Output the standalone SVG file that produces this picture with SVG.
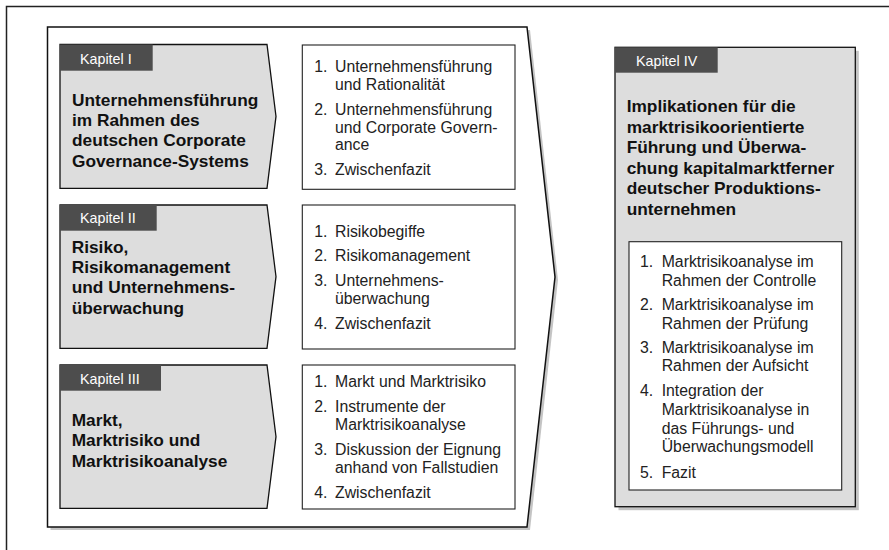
<svg xmlns="http://www.w3.org/2000/svg" width="889" height="550" viewBox="0 0 889 550">
  <defs>
    <style>
      .frame { fill: none; stroke: #222; stroke-width: 1.5; }
      .shadow { fill: #c4c4c4; stroke: none; }
      .chevron { fill: #ffffff; stroke: #111; stroke-width: 1.5; }
      .chapter { fill: #dddddd; stroke: #111; stroke-width: 1.3; }
      .tag { fill: #4d4d4d; stroke: none; }
      .list { fill: #ffffff; stroke: #222; stroke-width: 1.1; }
      .tagtext { font-family: "Liberation Sans", Arial, sans-serif; font-size: 14.3px; fill: #ffffff; }
      .title { font-family: "Liberation Sans", Arial, sans-serif; font-size: 17.3px; font-weight: bold; fill: #111; }
      .item { font-family: "Liberation Sans", Arial, sans-serif; font-size: 15.8px; fill: #222; }
    </style>
  </defs>

  <rect width="889" height="550" fill="#ffffff"/>

  <!-- page frame, running off the right and bottom edges -->
  <path class="frame" d="M6.5,550 V6.5 H889"/>

  <!-- big chevron holding chapters I-III -->
  <g id="container">
    <path class="shadow" d="M50.5,30 L530,30 L558,280 L530,530 L50.5,530 Z"/>
    <path class="chevron" d="M47.5,27 L527,27 L555,277 L527,527 L47.5,527 Z"/>
  </g>

  <!-- Kapitel I -->
  <g id="kapitel-1">
    <path class="chapter" d="M60,44.5 H267 L276,116.4 L267,188.3 H60 Z"/>
    <rect class="tag" x="60" y="44.5" width="92.7" height="26.2"/>
    <text class="tagtext" x="80" y="64">Kapitel I</text>
    <text class="title" x="72">
      <tspan x="72" y="105.7">Unternehmensführung</tspan>
      <tspan x="72" y="126">im Rahmen des</tspan>
      <tspan x="72" y="146.3">deutschen Corporate</tspan>
      <tspan x="72" y="166.6">Governance-Systems</tspan>
    </text>
  </g>
  <g id="inhalt-1">
    <rect class="list" x="302.3" y="45" width="212.7" height="144.3"/>
    <text class="item">
      <tspan x="314.3" y="72.3">1.</tspan><tspan x="335" y="72.3">Unternehmensführung</tspan>
      <tspan x="335" y="90">und Rationalität</tspan>
      <tspan x="314.3" y="115">2.</tspan><tspan x="335" y="115">Unternehmensführung</tspan>
      <tspan x="335" y="132.5">und Corporate Govern-</tspan>
      <tspan x="335" y="150">ance</tspan>
      <tspan x="314.3" y="175">3.</tspan><tspan x="335" y="175">Zwischenfazit</tspan>
    </text>
  </g>

  <!-- Kapitel II -->
  <g id="kapitel-2">
    <path class="chapter" d="M60,205 H267 L276,276.7 L267,348.3 H60 Z"/>
    <rect class="tag" x="60" y="205" width="96.7" height="25.7"/>
    <text class="tagtext" x="80" y="223">Kapitel II</text>
    <text class="title">
      <tspan x="71.7" y="252.7">Risiko,</tspan>
      <tspan x="71.7" y="273">Risikomanagement</tspan>
      <tspan x="71.7" y="293.3">und Unternehmens-</tspan>
      <tspan x="71.7" y="313.6">überwachung</tspan>
    </text>
  </g>
  <g id="inhalt-2">
    <rect class="list" x="302.3" y="205" width="212.7" height="144"/>
    <text class="item">
      <tspan x="314.3" y="236.7">1.</tspan><tspan x="335" y="236.7">Risikobegiffe</tspan>
      <tspan x="314.3" y="261.2">2.</tspan><tspan x="335" y="261.2">Risikomanagement</tspan>
      <tspan x="314.3" y="285.7">3.</tspan><tspan x="335" y="285.7">Unternehmens-</tspan>
      <tspan x="335" y="303.7">überwachung</tspan>
      <tspan x="314.3" y="328.5">4.</tspan><tspan x="335" y="328.5">Zwischenfazit</tspan>
    </text>
  </g>

  <!-- Kapitel III -->
  <g id="kapitel-3">
    <path class="chapter" d="M60,365 H267 L276,436.7 L267,508.3 H60 Z"/>
    <rect class="tag" x="60" y="365" width="101" height="25.7"/>
    <text class="tagtext" x="80" y="383.5">Kapitel III</text>
    <text class="title">
      <tspan x="71.7" y="426">Markt,</tspan>
      <tspan x="71.7" y="446.4">Marktrisiko und</tspan>
      <tspan x="71.7" y="466.8">Marktrisikoanalyse</tspan>
    </text>
  </g>
  <g id="inhalt-3">
    <rect class="list" x="302.3" y="365" width="212.7" height="144"/>
    <text class="item">
      <tspan x="314.3" y="387.3">1.</tspan><tspan x="335" y="387.3">Markt und Marktrisiko</tspan>
      <tspan x="314.3" y="412.3">2.</tspan><tspan x="335" y="412.3">Instrumente der</tspan>
      <tspan x="335" y="430">Marktrisikoanalyse</tspan>
      <tspan x="314.3" y="455">3.</tspan><tspan x="335" y="455">Diskussion der Eignung</tspan>
      <tspan x="335" y="472.5">anhand von Fallstudien</tspan>
      <tspan x="314.3" y="497.5">4.</tspan><tspan x="335" y="497.5">Zwischenfazit</tspan>
    </text>
  </g>

  <!-- Kapitel IV -->
  <g id="kapitel-4">
    <rect class="shadow" x="618.5" y="50.8" width="240.3" height="459.4"/>
    <rect class="chapter" x="615" y="47.3" width="240.3" height="459.4"/>
    <rect class="tag" x="615" y="47.3" width="102.7" height="25.4"/>
    <text class="tagtext" x="636" y="66">Kapitel IV</text>
    <text class="title">
      <tspan x="626.7" y="112">Implikationen für die</tspan>
      <tspan x="626.7" y="132.6">marktrisikoorientierte</tspan>
      <tspan x="626.7" y="153.2">Führung und Überwa-</tspan>
      <tspan x="626.7" y="173.8">chung kapitalmarktferner</tspan>
      <tspan x="626.7" y="194.4">deutscher Produktions-</tspan>
      <tspan x="626.7" y="215">unternehmen</tspan>
    </text>
    <rect class="list" x="629" y="241.7" width="212.7" height="248.3"/>
    <text class="item">
      <tspan x="640" y="267.3">1.</tspan><tspan x="661.7" y="267.3">Marktrisikoanalyse im</tspan>
      <tspan x="661.7" y="285.5">Rahmen der Controlle</tspan>
      <tspan x="640" y="310.3">2.</tspan><tspan x="661.7" y="310.3">Marktrisikoanalyse im</tspan>
      <tspan x="661.7" y="328.5">Rahmen der Prüfung</tspan>
      <tspan x="640" y="353">3.</tspan><tspan x="661.7" y="353">Marktrisikoanalyse im</tspan>
      <tspan x="661.7" y="371.2">Rahmen der Aufsicht</tspan>
      <tspan x="640" y="396">4.</tspan><tspan x="661.7" y="396">Integration der</tspan>
      <tspan x="661.7" y="414.8">Marktrisikoanalyse in</tspan>
      <tspan x="661.7" y="433.6">das Führungs- und</tspan>
      <tspan x="661.7" y="452.4">Überwachungsmodell</tspan>
      <tspan x="640" y="477.7">5.</tspan><tspan x="661.7" y="477.7">Fazit</tspan>
    </text>
  </g>
</svg>
